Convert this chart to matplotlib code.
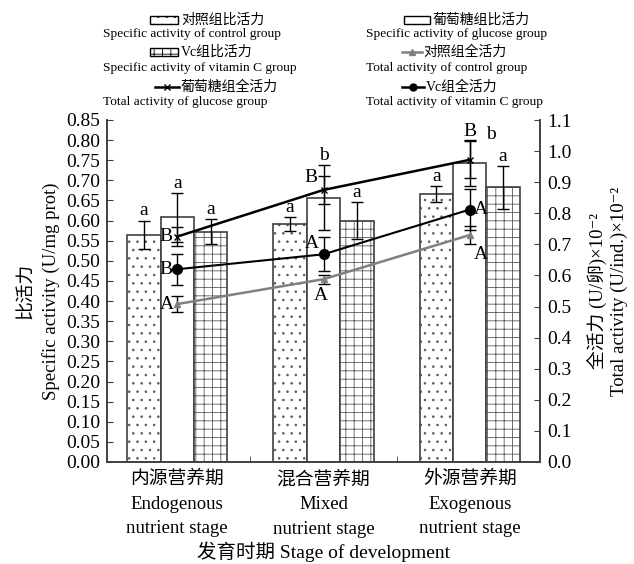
import matplotlib
matplotlib.use("Agg")
import matplotlib.pyplot as plt
from matplotlib.patches import Rectangle
from matplotlib.lines import Line2D
import numpy as np

plt.rcParams['font.family'] = ['Liberation Serif', 'Noto Sans CJK SC', 'DejaVu Sans']
plt.rcParams['hatch.linewidth'] = 0.6

stages = ["内源营养期\nEndogenous\nnutrient stage",
          "混合营养期\nMixed\nnutrient stage",
          "外源营养期\nExogenous\nnutrient stage"]

# specific activity (U/mg prot)
sa_control = [0.565, 0.592, 0.666]
sa_glucose = [0.608, 0.657, 0.743]
sa_vc = [0.572, 0.600, 0.683]
sa_control_err = [0.035, 0.017, 0.019]
sa_glucose_err = [0.060, 0.080, 0.057]
sa_vc_err = [0.031, 0.046, 0.053]
sa_control_let = ["a", "a", "a"]
sa_glucose_let = ["a", "b", "b"]
sa_vc_let = ["a", "a", "a"]

# total activity (U/ind.) x10^-2
ta_control = [0.508, 0.588, 0.730]
ta_glucose = [0.725, 0.875, 0.972]
ta_vc = [0.620, 0.668, 0.812]
ta_control_err = [0.025, 0.015, 0.030]
ta_glucose_err = [0.030, 0.045, 0.060]
ta_vc_err = [0.050, 0.055, 0.065]

x = np.arange(len(stages))
w = 0.228

fig = plt.figure(figsize=(6.34, 5.64), dpi=100)
ax = fig.add_axes([107/634, 1-462/564, 433/634, 342/564])
ax2 = ax.twinx()

edge = '#404040'
b1 = ax.bar(x - w, sa_control, w, color='white', edgecolor=edge, lw=1.2, hatch='..')
b2 = ax.bar(x, sa_glucose, w, color='white', edgecolor=edge, lw=1.2)
b3 = ax.bar(x + w, sa_vc, w, color='white', edgecolor=edge, lw=1.2, hatch='++')
for bars in (b1, b3):
    for b in bars:
        b._hatch_color = (0.35, 0.35, 0.35, 1)
ek = dict(fmt='none', ecolor='black', elinewidth=1, capsize=4, capthick=1)
ax.errorbar(x - w, sa_control, yerr=sa_control_err, **ek)
ax.errorbar(x, sa_glucose, yerr=sa_glucose_err, **ek)
ax.errorbar(x + w, sa_vc, yerr=sa_vc_err, **ek)

fs_let = 14
for i in range(3):
    ax.text(x[i] - w, sa_control[i] + sa_control_err[i] + 0.003, sa_control_let[i], ha='center', va='bottom', fontsize=fs_let)
    ax.text(x[i] + w, sa_vc[i] + sa_vc_err[i] + 0.003, sa_vc_let[i], ha='center', va='bottom', fontsize=fs_let)
for i in range(2):
    ax.text(x[i], sa_glucose[i] + sa_glucose_err[i] + 0.003, sa_glucose_let[i], ha='center', va='bottom', fontsize=fs_let)
ax.text(x[2] + 0.11, sa_glucose[2] + sa_glucose_err[2] + 0.015, sa_glucose_let[2], ha='left', va='center', fontsize=fs_let)

ax2.plot(x, ta_control, color='#808080', lw=1.8, marker='^', ms=4, zorder=5)
ax2.errorbar(x, ta_control, yerr=ta_control_err, fmt='none', ecolor='black', elinewidth=1, capsize=4)
ax2.plot(x, ta_glucose, color='black', lw=1.8, marker='x', ms=4, zorder=5)
ax2.errorbar(x, ta_glucose, yerr=ta_glucose_err, fmt='none', ecolor='black', elinewidth=1, capsize=4)
ax2.plot(x, ta_vc, color='black', lw=1.5, marker='o', ms=7, zorder=5)
ax2.errorbar(x, ta_vc, yerr=ta_vc_err, fmt='none', ecolor='black', elinewidth=1, capsize=4)

# line letters
ax2.text(x[0] - 0.03, ta_glucose[0], "B", ha='right', va='center', fontsize=fs_let)
ax2.text(x[0] - 0.03, ta_vc[0], "B", ha='right', va='center', fontsize=fs_let)
ax2.text(x[0] - 0.02, ta_control[0], "A", ha='right', va='center', fontsize=fs_let)
ax2.text(x[1] - 0.04, ta_glucose[1] + 0.04, "B", ha='right', va='center', fontsize=fs_let)
ax2.text(x[1] - 0.03, ta_vc[1] + 0.035, "A", ha='right', va='center', fontsize=fs_let)
ax2.text(x[1] - 0.02, ta_control[1] - 0.025, "A", ha='center', va='top', fontsize=fs_let)
ax2.text(x[2], ta_glucose[2] + 0.065, "B", ha='center', va='bottom', fontsize=fs_let)
ax2.text(x[2] + 0.03, ta_vc[2], "A", ha='left', va='center', fontsize=fs_let)
ax2.text(x[2] + 0.03, ta_control[2] - 0.035, "A", ha='left', va='top', fontsize=fs_let)

ax.set_xlim(-0.48, 2.48)
ax.set_ylim(0, 0.85)
ax2.set_ylim(0, 1.1)
ax.set_yticks(np.arange(0, 0.851, 0.05))
ax.set_yticklabels([f"{v:.2f}" for v in np.arange(0, 0.851, 0.05)])
ax2.set_yticks(np.arange(0, 1.101, 0.1))
ax2.set_yticklabels([f"{v:.1f}" for v in np.arange(0, 1.101, 0.1)])
ax.set_xticks(x)
ax.set_xticklabels(stages, fontsize=13.5, linespacing=1.6)
ax.set_xticks([0.5, 1.5], minor=True)
ax.tick_params(axis='x', which='major', length=0, pad=6)
ax.tick_params(axis='x', which='minor', direction='in', length=4, color=edge)
ax.tick_params(axis='y', direction='in', length=4, labelsize=14, color=edge, pad=5)
ax2.tick_params(axis='y', direction='in', length=4, labelsize=14, color=edge, pad=5)
for a in (ax, ax2):
    a.spines['top'].set_visible(False)
    for s in ('left', 'right', 'bottom'):
        a.spines[s].set_color(edge)
        a.spines[s].set_linewidth(1.2)

ax.set_xlabel("发育时期 Stage of development", fontsize=14, labelpad=3)
ax.set_ylabel("比活力\nSpecific activity (U/mg prot)", fontsize=13.5, linespacing=1.5)
ax2.set_ylabel("全活力 (U/卵)×10⁻²\nTotal activity (U/ind.)×10⁻²",
               fontsize=13.5, linespacing=1.3, labelpad=11)

# legend built by hand (Chinese + handle on one line, English below)
def fx(px):
    return px / 634
def fy(py):
    return 1 - py / 564

def rect_handle(x0, x1, yc, hatch):
    r = Rectangle((fx(x0), fy(yc + 4)), fx(x1) - fx(x0), fy(yc - 4) - fy(yc + 4),
                  transform=fig.transFigure, facecolor='white', edgecolor='black', lw=1, hatch=hatch)
    fig.add_artist(r)

def line_handle(x0, x1, yc, color, marker, ms):
    fig.add_artist(Line2D([fx(x0), fx(x1)], [fy(yc), fy(yc)], transform=fig.transFigure,
                          color=color, lw=1.8))
    fig.add_artist(Line2D([fx((x0 + x1) / 2)], [fy(yc)], transform=fig.transFigure,
                          color=color, marker=marker, ms=ms, lw=0))

fs_cn = 10
fs_en = 9.6
rect_handle(150, 178, 20, '..')
fig.text(fx(181), fy(20), "对照组比活力", fontsize=fs_cn, va='center')
fig.text(fx(103), fy(34), "Specific activity of control group", fontsize=fs_en, va='center')
rect_handle(404, 430, 20, None)
fig.text(fx(433), fy(20), "葡萄糖组比活力", fontsize=fs_cn, va='center')
fig.text(fx(366), fy(34), "Specific activity of glucose group", fontsize=fs_en, va='center')
rect_handle(150, 178, 52, '++')
fig.text(fx(181), fy(52), "Vc组比活力", fontsize=fs_cn, va='center')
fig.text(fx(103), fy(68), "Specific activity of vitamin C group", fontsize=fs_en, va='center')
line_handle(402, 422, 52, '#808080', '^', 4)
fig.text(fx(423), fy(52), "对照组全活力", fontsize=fs_cn, va='center')
fig.text(fx(366), fy(68), "Total activity of control group", fontsize=fs_en, va='center')
line_handle(155, 179, 87, 'black', 'x', 4)
fig.text(fx(181), fy(87), "葡萄糖组全活力", fontsize=fs_cn, va='center')
fig.text(fx(103), fy(102), "Total activity of glucose group", fontsize=fs_en, va='center')
line_handle(402, 424, 87, 'black', 'o', 5)
fig.text(fx(426), fy(87), "Vc组全活力", fontsize=fs_cn, va='center')
fig.text(fx(366), fy(102), "Total activity of vitamin C group", fontsize=fs_en, va='center')

fig.savefig("out.png", dpi=100)
